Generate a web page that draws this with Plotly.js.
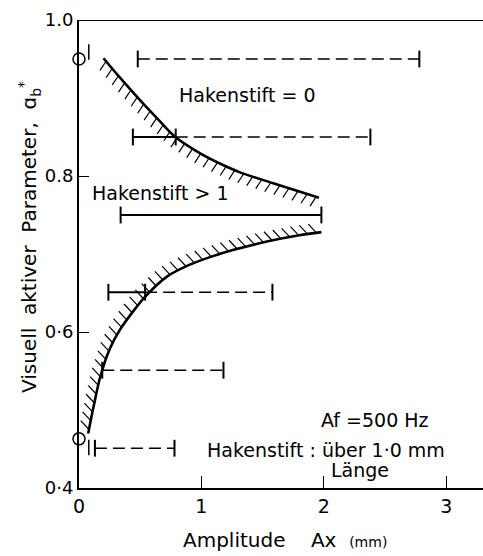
<!DOCTYPE html>
<html>
<head>
<meta charset="utf-8">
<script src="https://cdn.plot.ly/plotly-3.0.1.min.js"></script>
<style>html,body{margin:0;padding:0;background:#fff;}</style>
</head>
<body>
<div id="chart" style="width:483px;height:556px;"></div>
<script>
// ---- data ----
// upper boundary curve (Hakenstift = 0 region above)
const upperX = [0.20, 0.335, 0.50, 0.65, 0.78, 0.99, 1.15, 1.31, 1.58, 1.80, 1.96];
const upperY = [0.951, 0.926, 0.897, 0.872, 0.851, 0.829, 0.816, 0.805, 0.791, 0.780, 0.772];
// lower boundary curve
const lowerX = [0.075, 0.12, 0.171, 0.25, 0.335, 0.45, 0.539, 0.718, 0.90, 1.07, 1.257, 1.535, 1.80, 1.98];
const lowerY = [0.470, 0.505, 0.541, 0.578, 0.603, 0.628, 0.645, 0.671, 0.686, 0.696, 0.705, 0.716, 0.724, 0.728];
// horizontal range bars
const rangeY     = [0.950, 0.850, 0.750, 0.651, 0.551, 0.451];
const rangeStart = [0.48, 0.44, 0.34, 0.24, 0.19, 0.13];
const rangeSolidEnd = [null, 0.79, 1.98, 0.54, null, null];
const rangeEnd   = [2.78, 2.38, 1.98, 1.58, 1.18, 0.78];
// open circles on the y axis
const circleX = [0, 0];
const circleY = [0.95, 0.463];
// small marks next to the circles
const markX = [0.08, 0.08];
const markY = [0.959, 0.452];
// axis ticks
const xTickVals = [0, 1, 2, 3];
const xTickText = ['0', '1', '2', '3'];
const yTickVals = [0.4, 0.6, 0.8, 1.0];
const yTickText = ['0·4', '0·6', '0.8', '1.0'];

// ---- layout geometry ----
const W = 483, H = 556;
const M = {l: 79, r: 0, t: 20, b: 68};
const xRange = [0, 3.3];
const yRange = [0.4, 1.0];
const sx = (W - M.l - M.r) / (xRange[1] - xRange[0]);
const sy = (H - M.t - M.b) / (yRange[1] - yRange[0]);
const FONT = 'DejaVu Sans, sans-serif';

function hatch(xs, ys, dir, len, step, off) {
  const P = xs.map((x, i) => [x * sx, -ys[i] * sy]);
  const cum = [0];
  for (let i = 1; i < P.length; i++) {
    cum.push(cum[i - 1] + Math.hypot(P[i][0] - P[i - 1][0], P[i][1] - P[i - 1][1]));
  }
  const total = cum[cum.length - 1];
  const n = Math.hypot(dir[0], dir[1]);
  const d = [dir[0] / n, dir[1] / n];
  const hx = [], hy = [];
  for (let s = off; s < total - 2; s += step) {
    let k = 1;
    while (k < cum.length - 1 && cum[k] < s) k++;
    const t = (s - cum[k - 1]) / (cum[k] - cum[k - 1]);
    const px = P[k - 1][0] + t * (P[k][0] - P[k - 1][0]);
    const py = P[k - 1][1] + t * (P[k][1] - P[k - 1][1]);
    hx.push(px / sx, (px + d[0] * len) / sx, null);
    hy.push(-py / sy, -(py + d[1] * len) / sy, null);
  }
  return {hx, hy};
}

const hu = hatch(upperX, upperY, [-0.55, 0.83], 11, 9.5, 4);
const hl = hatch(lowerX, lowerY, [-0.68, -0.73], 12, 9, 4);

// range bar segments
const solidX = [], solidY = [], dashX = [], dashY = [], capX = [], capY = [];
rangeY.forEach((y, i) => {
  const s = rangeStart[i], m = rangeSolidEnd[i], e = rangeEnd[i];
  capX.push(s, e); capY.push(y, y);
  if (m !== null) {
    solidX.push(s, m, null); solidY.push(y, y, null);
    if (m < e) { dashX.push(m, e, null); dashY.push(y, y, null); capX.push(m); capY.push(y); }
  } else {
    dashX.push(s, e, null); dashY.push(y, y, null);
  }
});

const traces = [
  {x: hu.hx, y: hu.hy, mode: 'lines', line: {color: '#000', width: 1.2}, hoverinfo: 'skip'},
  {x: hl.hx, y: hl.hy, mode: 'lines', line: {color: '#000', width: 1.2}, hoverinfo: 'skip'},
  {x: upperX, y: upperY, mode: 'lines', line: {color: '#000', width: 2.6, shape: 'spline', smoothing: 0.8}},
  {x: lowerX, y: lowerY, mode: 'lines', line: {color: '#000', width: 2.6, shape: 'spline', smoothing: 0.8}},
  {x: solidX, y: solidY, mode: 'lines', line: {color: '#000', width: 2}},
  {x: dashX, y: dashY, mode: 'lines', line: {color: '#000', width: 1.6, dash: '12px,6px'}},
  {x: capX, y: capY, mode: 'markers', marker: {symbol: 'line-ns', size: 12, color: '#000', line: {color: '#000', width: 2}}},
  {x: markX, y: markY, mode: 'markers', cliponaxis: false, marker: {symbol: 'line-ns', size: 11, color: '#000', line: {color: '#000', width: 1.5}}},
  {x: circleX, y: circleY, mode: 'markers', cliponaxis: false, marker: {symbol: 'circle', size: 12, color: '#fff', line: {color: '#000', width: 1.5}}}
];

const annFont = {family: FONT, size: 19, color: '#000'};
const layout = {
  width: W, height: H,
  margin: M,
  paper_bgcolor: '#fff', plot_bgcolor: '#fff',
  showlegend: false,
  font: {family: FONT, color: '#000'},
  xaxis: {
    range: xRange, showgrid: false, zeroline: false,
    showline: true, linecolor: '#000', linewidth: 2,
    ticks: 'inside', ticklen: 12, tickwidth: 1, tickcolor: '#000',
    tickvals: xTickVals, ticktext: xTickText,
    tickfont: {family: FONT, size: 19, color: '#000'}
  },
  yaxis: {
    range: yRange, showgrid: false, zeroline: false,
    showline: true, linecolor: '#000', linewidth: 2,
    ticks: 'inside', ticklen: 10, tickwidth: 1, tickcolor: '#000',
    tickvals: yTickVals, ticktext: yTickText,
    tickfont: {family: FONT, size: 18, color: '#000'}
  },
  shapes: [
    {type: 'line', xref: 'paper', yref: 'y', x0: -0.005, x1: 1, y0: 1.0, y1: 1.0, line: {color: '#000', width: 2}}
  ],
  annotations: [
    {x: 1.375, y: 0.904, xref: 'x', yref: 'y', text: 'Hakenstift = 0', showarrow: false, font: annFont},
    {x: 0.665, y: 0.778, xref: 'x', yref: 'y', text: 'Hakenstift > 1', showarrow: false, font: annFont},
    {x: 2.42, y: 0.487, xref: 'x', yref: 'y', text: 'Af =500 Hz', showarrow: false, font: annFont},
    {x: 2.016, y: 0.449, xref: 'x', yref: 'y', text: 'Hakenstift : über 1·0 mm', showarrow: false, font: annFont},
    {x: 2.294, y: 0.423, xref: 'x', yref: 'y', text: 'Länge', showarrow: false, font: annFont},
    {x: 1.68, y: -(540 - 488) / 468, xref: 'x', yref: 'paper', yanchor: 'middle',
     text: 'Amplitude&nbsp;&nbsp;&nbsp;&nbsp;Ax&nbsp;&nbsp;<span style="font-size:14px">(mm)</span>',
     showarrow: false, font: {family: FONT, size: 20, color: '#000'}},
    {x: -(79 - 29) / 404, y: (488 - 237) / 468, xref: 'paper', yref: 'paper', textangle: -90,
     xanchor: 'center', yanchor: 'middle',
     text: 'Visuell&nbsp;&nbsp;aktiver&nbsp;&nbsp;Parameter,&nbsp;&nbsp;ɑ<sub>b</sub><sup>*</sup>',
     showarrow: false, font: {family: FONT, size: 20, color: '#000'}}
  ]
};

Plotly.newPlot('chart', traces, layout, {staticPlot: true, displayModeBar: false});
</script>
</body>
</html>
